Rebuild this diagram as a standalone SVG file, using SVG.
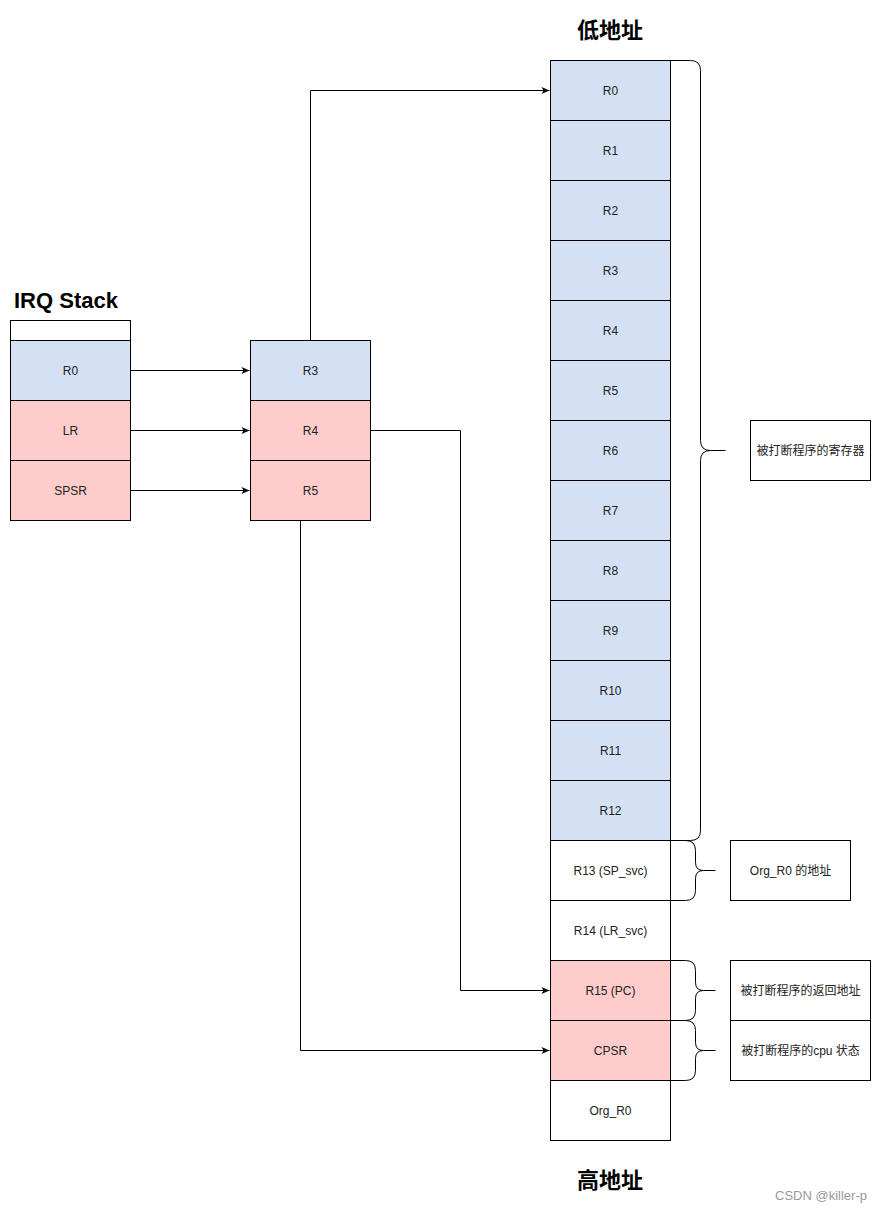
<svg xmlns="http://www.w3.org/2000/svg" width="882" height="1212" viewBox="0 0 882 1212">
<defs>
<marker id="ah" markerWidth="10" markerHeight="10" refX="9" refY="5" orient="auto" markerUnits="userSpaceOnUse">
<path d="M1,1.5 L9,5 L1,8.5 L3,5 Z" fill="#000"/>
</marker>
<style>
.c{stroke:#000;stroke-width:1}
.b{fill:#d4e1f5}
.r{fill:#ffcccc}
.w{fill:#fff}
.t{font-family:"Liberation Sans","Noto Sans CJK SC",sans-serif;font-size:12px;fill:#222;text-anchor:middle;dominant-baseline:central}
.h{font-family:"Liberation Sans","Noto Sans CJK SC",sans-serif;font-size:22px;font-weight:bold;fill:#000}
.e{fill:none;stroke:#000;stroke-width:1}
</style>
</defs>
<rect width="882" height="1212" fill="#fff"/>
<text class="h" x="14" y="308">IRQ Stack</text>
<text class="h" x="610" y="38" text-anchor="middle">低地址</text>
<text class="h" x="610" y="1188" text-anchor="middle">高地址</text>
<g transform="translate(0.5,0.5)">
<g id="irq">
<rect class="c w" x="10" y="320" width="120" height="20"/>
<g id="irq-r0"><rect class="c b" x="10" y="340" width="120" height="60"/><text class="t" x="70" y="370">R0</text></g>
<g id="irq-lr"><rect class="c r" x="10" y="400" width="120" height="60"/><text class="t" x="70" y="430">LR</text></g>
<g id="irq-spsr"><rect class="c r" x="10" y="460" width="120" height="60"/><text class="t" x="70" y="490">SPSR</text></g>
</g>
<g id="mid">
<g id="mid-r3"><rect class="c b" x="250" y="340" width="120" height="60"/><text class="t" x="310" y="370">R3</text></g>
<g id="mid-r4"><rect class="c r" x="250" y="400" width="120" height="60"/><text class="t" x="310" y="430">R4</text></g>
<g id="mid-r5"><rect class="c r" x="250" y="460" width="120" height="60"/><text class="t" x="310" y="490">R5</text></g>
</g>
<g id="svc">
<g id="s-r0"><rect class="c b" x="550" y="60" width="120" height="60"/><text class="t" x="610" y="90">R0</text></g>
<g id="s-r1"><rect class="c b" x="550" y="120" width="120" height="60"/><text class="t" x="610" y="150">R1</text></g>
<g id="s-r2"><rect class="c b" x="550" y="180" width="120" height="60"/><text class="t" x="610" y="210">R2</text></g>
<g id="s-r3"><rect class="c b" x="550" y="240" width="120" height="60"/><text class="t" x="610" y="270">R3</text></g>
<g id="s-r4"><rect class="c b" x="550" y="300" width="120" height="60"/><text class="t" x="610" y="330">R4</text></g>
<g id="s-r5"><rect class="c b" x="550" y="360" width="120" height="60"/><text class="t" x="610" y="390">R5</text></g>
<g id="s-r6"><rect class="c b" x="550" y="420" width="120" height="60"/><text class="t" x="610" y="450">R6</text></g>
<g id="s-r7"><rect class="c b" x="550" y="480" width="120" height="60"/><text class="t" x="610" y="510">R7</text></g>
<g id="s-r8"><rect class="c b" x="550" y="540" width="120" height="60"/><text class="t" x="610" y="570">R8</text></g>
<g id="s-r9"><rect class="c b" x="550" y="600" width="120" height="60"/><text class="t" x="610" y="630">R9</text></g>
<g id="s-r10"><rect class="c b" x="550" y="660" width="120" height="60"/><text class="t" x="610" y="690">R10</text></g>
<g id="s-r11"><rect class="c b" x="550" y="720" width="120" height="60"/><text class="t" x="610" y="750">R11</text></g>
<g id="s-r12"><rect class="c b" x="550" y="780" width="120" height="60"/><text class="t" x="610" y="810">R12</text></g>
<g id="s-r13"><rect class="c w" x="550" y="840" width="120" height="60"/><text class="t" x="610" y="870">R13 (SP_svc)</text></g>
<g id="s-r14"><rect class="c w" x="550" y="900" width="120" height="60"/><text class="t" x="610" y="930">R14 (LR_svc)</text></g>
<g id="s-r15"><rect class="c r" x="550" y="960" width="120" height="60"/><text class="t" x="610" y="990">R15 (PC)</text></g>
<g id="s-cpsr"><rect class="c r" x="550" y="1020" width="120" height="60"/><text class="t" x="610" y="1050">CPSR</text></g>
<g id="s-org"><rect class="c w" x="550" y="1080" width="120" height="60"/><text class="t" x="610" y="1110">Org_R0</text></g>
</g>
<g id="braces">
<path class="e" d="M670,60 H690 Q700,60 700,70 V440 Q700,450 710,450 H725 M710,450 Q700,450 700,460 V830 Q700,840 690,840 H670"/>
<path class="e" d="M670,840 H685 Q695,840 695,850 V862 Q695,870 703,870 H715 M703,870 Q695,870 695,878 V890 Q695,900 685,900 H670"/>
<path class="e" d="M670,960 H685 Q695,960 695,970 V982 Q695,990 703,990 H715 M703,990 Q695,990 695,998 V1010 Q695,1020 685,1020 H670"/>
<path class="e" d="M670,1020 H685 Q695,1020 695,1030 V1042 Q695,1050 703,1050 H715 M703,1050 Q695,1050 695,1058 V1070 Q695,1080 685,1080 H670"/>
</g>
<g id="note1"><rect class="c w" x="750" y="420" width="120" height="60"/><text class="t" x="810" y="450">被打断程序的寄存器</text></g>
<g id="note2"><rect class="c w" x="730" y="840" width="120" height="60"/><text class="t" x="790" y="870">Org_R0 的地址</text></g>
<g id="note3"><rect class="c w" x="730" y="960" width="140" height="60"/><text class="t" x="800" y="990">被打断程序的返回地址</text></g>
<g id="note4"><rect class="c w" x="730" y="1020" width="140" height="60"/><text class="t" x="800" y="1050">被打断程序的cpu 状态</text></g>
<g id="connectors" fill="none" stroke="#000" stroke-width="1">
<path d="M130,370 H249" marker-end="url(#ah)"/>
<path d="M130,430 H249" marker-end="url(#ah)"/>
<path d="M130,490 H249" marker-end="url(#ah)"/>
<path d="M310,340 V90 H549" marker-end="url(#ah)"/>
<path d="M370,430 H460 V990 H549" marker-end="url(#ah)"/>
<path d="M300,520 V1050 H549" marker-end="url(#ah)"/>
</g>
</g>
<text x="867" y="1200" text-anchor="end" font-family="Liberation Sans, sans-serif" font-size="13" fill="#999">CSDN @killer-p</text>
</svg>
